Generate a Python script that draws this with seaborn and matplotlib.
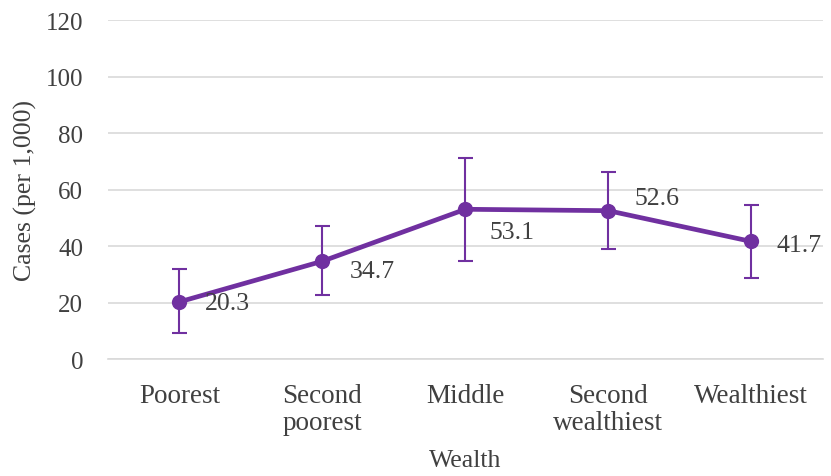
import matplotlib
matplotlib.use("Agg")
import matplotlib.pyplot as plt
import seaborn as sns
import pandas as pd

categories = ["Poorest", "Second\npoorest", "Middle", "Second\nwealthiest", "Wealthiest"]
values = [20.3, 34.7, 53.1, 52.6, 41.7]
lower = [9.2, 22.6, 34.7, 38.9, 28.9]
upper = [31.8, 47.1, 71.4, 66.4, 54.5]
yticks = [0, 20, 40, 60, 80, 100, 120]
# data label offsets in pixels (dx, dy)
label_offsets = [(25, -1), (27, -10), (24, -23), (26, 13), (25, -4)]

sns.set_theme(style="white")
plt.rcParams['font.family'] = ['Liberation Serif', 'DejaVu Serif']
text_color = "#404040"
purple = "#7030A0"
fs = 18.5

df = pd.DataFrame({"Wealth": categories, "Cases": values})
fig, ax = plt.subplots(figsize=(8.31, 4.77), dpi=100)
fig.subplots_adjust(left=0.13, right=0.99, top=0.955, bottom=0.245)

sns.lineplot(data=df, x="Wealth", y="Cases", ax=ax, color=purple, linewidth=3.4,
             marker="o", markersize=11, markeredgewidth=0, sort=False, zorder=3)
xs = list(range(len(categories)))
ax.errorbar(xs, values,
            yerr=[[v - l for v, l in zip(values, lower)], [u - v for u, v in zip(upper, values)]],
            fmt="none", ecolor=purple, elinewidth=1.5, capsize=5.4, capthick=1.5, zorder=2)

for x, v, (dx, dy) in zip(xs, values, label_offsets):
    ax.annotate(f"{v}", (x, v), xytext=(dx, dy), textcoords="offset pixels",
                ha="left", va="center", fontsize=fs, color=text_color)

ax.set_xlim(-0.5, len(categories) - 0.5)
ax.set_ylim(0, 120)
ax.set_yticks(yticks)
ax.yaxis.grid(True, color="#d9d9d9", linewidth=1.2)
ax.xaxis.grid(False)
for s in ["top", "right", "left"]:
    ax.spines[s].set_visible(False)
ax.spines["bottom"].set_color("#d9d9d9")
ax.spines["bottom"].set_linewidth(1.2)
ax.tick_params(axis="both", length=0, labelcolor=text_color)
ax.tick_params(axis="x", pad=17, labelsize=19.5)
ax.tick_params(axis="y", pad=18, labelsize=18)
for lbl in ax.get_xticklabels():
    lbl.set_linespacing(1.1)
ax.set_xlabel("Wealth", fontsize=fs, color=text_color, labelpad=10)
ax.set_ylabel("Cases (per 1,000)", fontsize=fs, color=text_color, labelpad=6)

fig.savefig("out.png", dpi=100)
